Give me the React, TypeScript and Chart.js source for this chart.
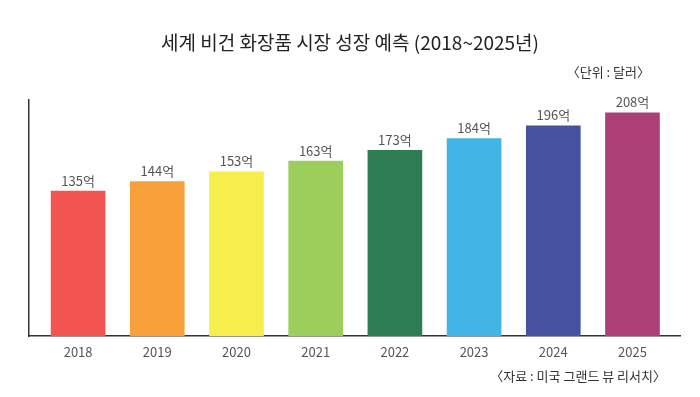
import React, { useEffect, useRef } from "react";
import { Chart, registerables } from "chart.js";

Chart.register(...registerables);

const TITLE = "세계 비건 화장품 시장 성장 예측 (2018~2025년)";
const UNIT = "〈단위 : 달러〉";
const SOURCE = "〈자료 : 미국 그랜드 뷰 리서치〉";
const years = ["2018", "2019", "2020", "2021", "2022", "2023", "2024", "2025"];
const values = [135, 144, 153, 163, 173, 184, 196, 208];
const valueLabels = ["135억", "144억", "153억", "163억", "173억", "184억", "196억", "208억"];
const colors = ["#F2554F", "#F8A13A", "#F7EE4E", "#9DCD5A", "#2E7D52", "#41B6E6", "#4651A0", "#AD3F77"];

const FONT = "'Noto Sans CJK KR', 'Noto Sans', sans-serif";

const textPlugin = {
  id: "texts",
  afterDatasetsDraw(chart: any) {
    const ctx = chart.ctx;
    ctx.save();
    const meta = chart.getDatasetMeta(0);
    ctx.fillStyle = "#555";
    ctx.font = `13px ${FONT}`;
    ctx.textAlign = "center";
    ctx.textBaseline = "bottom";
    meta.data.forEach((el: any, i: number) => {
      ctx.fillText(valueLabels[i], el.x, el.y - 4);
    });
    ctx.textBaseline = "middle";
    ctx.fillStyle = "#222";
    ctx.font = `19px ${FONT}`;
    ctx.fillText(TITLE, 350, 43);
    ctx.textAlign = "right";
    ctx.fillStyle = "#333";
    ctx.font = `13px ${FONT}`;
    ctx.fillText(UNIT, 650, 72);
    ctx.font = `13px ${FONT}`;
    ctx.fillText(SOURCE, 666, 376);
    ctx.restore();
  },
};

export default function App() {
  const ref = useRef<HTMLCanvasElement>(null);
  useEffect(() => {
    if (!ref.current) return;
    const chart = new Chart(ref.current, {
      type: "bar",
      data: {
        datasets: [
          {
            data: values.map((v, i) => ({ x: i, y: v })),
            backgroundColor: colors,
            borderWidth: 0,
            barThickness: 54,
          },
        ],
      },
      options: {
        responsive: false,
        animation: false,
        layout: { padding: { top: 100, left: 29, right: 20, bottom: 31 } },
        plugins: {
          legend: { display: false },
          tooltip: { enabled: false },
          title: { display: false },
        },
        scales: {
          x: {
            type: "linear",
            offset: false,
            min: -0.62,
            max: 7.6,
            grid: { display: false },
            border: { display: true, color: "#333", width: 1.5 },
            afterBuildTicks: (s: any) => {
              s.ticks = years.map((_, i) => ({ value: i }));
            },
            afterFit: (s: any) => {
              s.height = 30;
            },
            ticks: {
              padding: 0,
              color: "#555",
              font: { family: FONT, size: 13 },
              callback: (v: any) => years[v as number] ?? "",
              autoSkip: false,
              maxRotation: 0,
            },
          },
          y: {
            min: 0,
            max: 220,
            grid: { display: false },
            border: { display: true, color: "#333", width: 1.5 },
            ticks: { display: false },
            afterFit: (s: any) => {
              s.width = 0;
            },
          },
        },
      },
      plugins: [textPlugin],
    });
    return () => chart.destroy();
  }, []);
  return (
    <div style={{ position: "fixed", left: 0, top: 0, width: 700, height: 397, background: "#fff" }}>
      <canvas ref={ref} width={700} height={397} />
    </div>
  );
}
